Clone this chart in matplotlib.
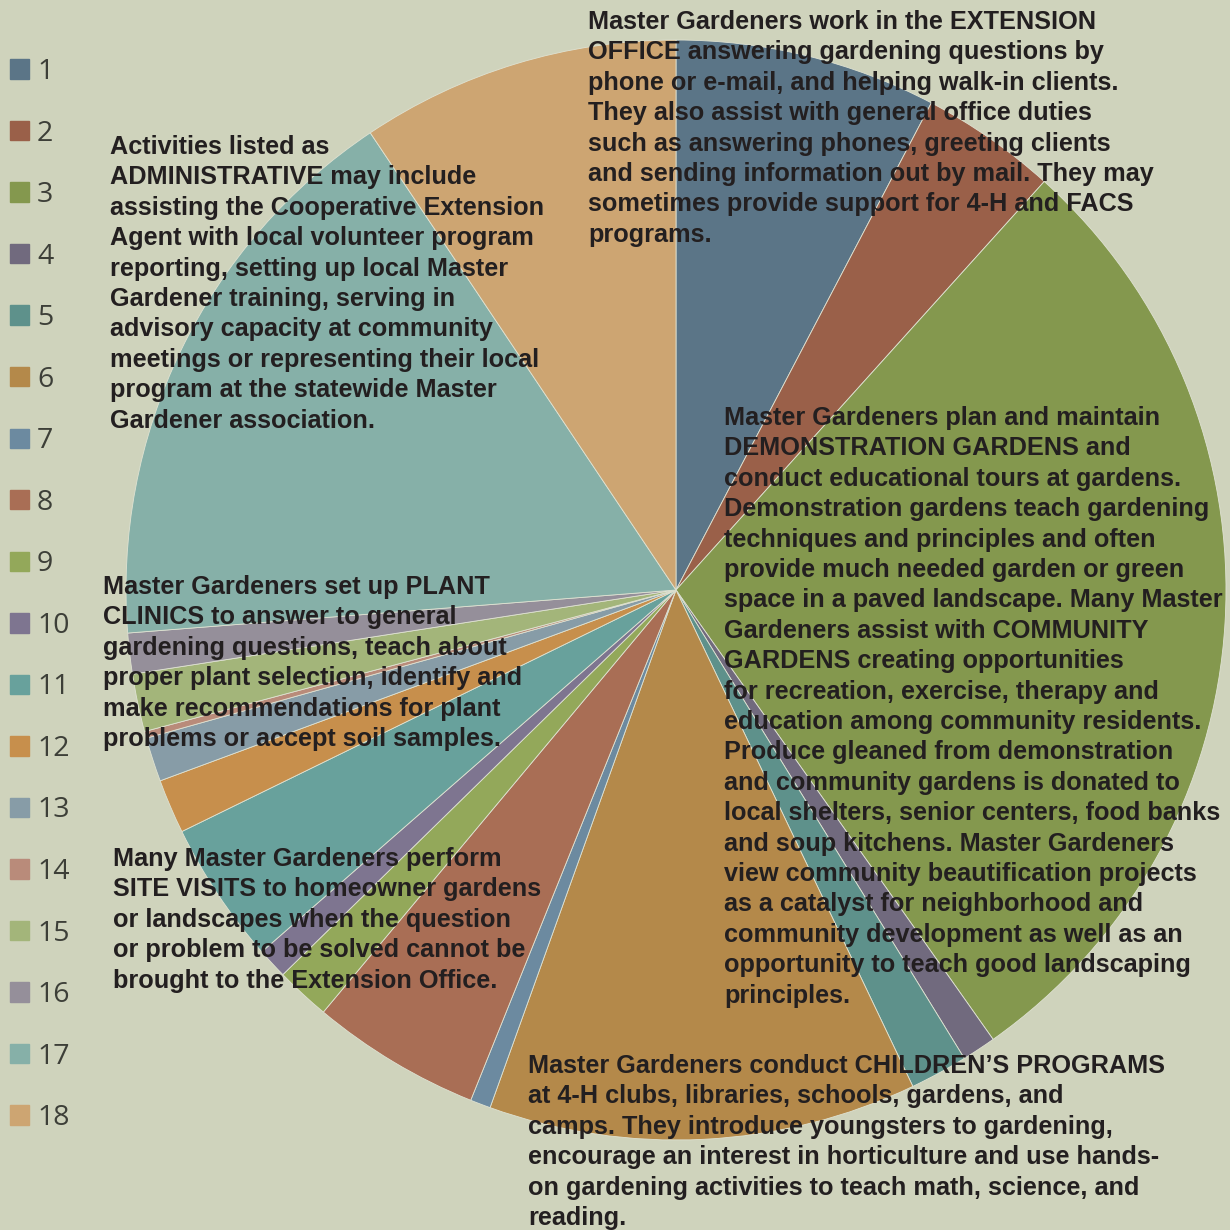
import matplotlib.pyplot as plt
import matplotlib.patches as mpatches

# slice sizes (share of the circle, %)
labels = [str(i) for i in range(1, 19)]
values = [7.7, 4.0, 28.6, 1.0, 1.7, 12.6, 0.6, 5.0, 1.6, 0.9,
          4.2, 1.6, 1.3, 0.2, 1.7, 1.2, 16.9, 9.4]
colors = ['#5b7587', '#9a6049', '#84984e', '#716a7e', '#5e918b', '#b4894a',
          '#6c8aa0', '#a96e55', '#93a85a', '#7e7590', '#68a19c', '#c78f4c',
          '#879ca7', '#b98b7a', '#a3b57a', '#958f9a', '#86b0a8', '#cda572']

office_txt = ["Master Gardeners work in the EXTENSION",
              "OFFICE answering gardening questions by",
              "phone or e-mail, and helping walk-in clients.",
              "They also assist with general office duties",
              "such as answering phones, greeting clients",
              "and sending information out by mail. They may",
              "sometimes provide support for 4-H and FACS",
              "programs."]
admin_txt = ["Activities listed as",
             "ADMINISTRATIVE may include",
             "assisting the Cooperative Extension",
             "Agent with local volunteer program",
             "reporting, setting up local Master",
             "Gardener training, serving in",
             "advisory capacity at community",
             "meetings or representing their local",
             "program at the statewide Master",
             "Gardener association."]
demo_txt = ["Master Gardeners plan and maintain",
            "DEMONSTRATION GARDENS and",
            "conduct educational tours at gardens.",
            "Demonstration gardens teach gardening",
            "techniques and principles and often",
            "provide much needed garden or green",
            "space in a paved landscape. Many Master",
            "Gardeners assist with COMMUNITY",
            "GARDENS creating opportunities",
            "for recreation, exercise, therapy and",
            "education among community residents.",
            "Produce gleaned from demonstration",
            "and community gardens is donated to",
            "local shelters, senior centers, food banks",
            "and soup kitchens. Master Gardeners",
            "view community beautification projects",
            "as a catalyst for neighborhood and",
            "community development as well as an",
            "opportunity to teach good landscaping",
            "principles."]
clinic_txt = ["Master Gardeners set up PLANT",
              "CLINICS to answer to general",
              "gardening questions, teach about",
              "proper plant selection, identify and",
              "make recommendations for plant",
              "problems or accept soil samples."]
visit_txt = ["Many Master Gardeners perform",
             "SITE VISITS to homeowner gardens",
             "or landscapes when the question",
             "or problem to be solved cannot be",
             "brought to the Extension Office."]
child_txt = ["Master Gardeners conduct CHILDREN\u2019S PROGRAMS",
             "at 4-H clubs, libraries, schools, gardens, and",
             "camps. They introduce youngsters to gardening,",
             "encourage an interest in horticulture and use hands-",
             "on gardening activities to teach math, science, and",
             "reading."]

bg = '#cfd3bc'
W = 1230
fig = plt.figure(figsize=(12.3, 12.3), dpi=100, facecolor=bg)

# pie: centre (676, 590) px, radius 550 px
cx, cy, r = 676, 590, 550
ax = fig.add_axes([(cx - r) / W, (W - cy - r) / W, 2 * r / W, 2 * r / W])
ax.set_facecolor(bg)
wedges, _ = ax.pie(values, colors=colors, startangle=90, counterclock=False,
                   radius=1, wedgeprops=dict(edgecolor='#dfe2d2', linewidth=0.6))
ax.set_xlim(-1, 1)
ax.set_ylim(-1, 1)
ax.set_aspect('equal')
ax.axis('off')

# legend
handles = [mpatches.Patch(color=c) for c in colors]
leg = fig.legend(handles, labels, loc='upper left', bbox_to_anchor=(0.0, 1 - 48 / W),
                 frameon=False, prop={'family': 'Open Sans', 'size': 20.5},
                 handlelength=0.67, handleheight=0.67, handletextpad=0.28,
                 labelspacing=1.178, borderaxespad=0, borderpad=0.35)
for t in leg.get_texts():
    t.set_color('#3d3f38')

# text overlay in pixel coordinates
tx = fig.add_axes([0, 0, 1, 1])
tx.set_xlim(0, W)
tx.set_ylim(W, 0)
tx.axis('off')
tx.patch.set_alpha(0)

blocks = [(office_txt, 588, 22), (admin_txt, 110, 147), (demo_txt, 724, 418),
          (clinic_txt, 103, 587), (visit_txt, 113, 859), (child_txt, 528, 1066)]
step = 30.4
for lines, x0, y0 in blocks:
    for i, line in enumerate(lines):
        tx.text(x0, y0 + i * step, line, fontsize=18.2, fontweight='bold',
                family='Liberation Sans', color='#231f20', ha='left', va='center')

fig.savefig('out.png', dpi=100, facecolor=bg)
